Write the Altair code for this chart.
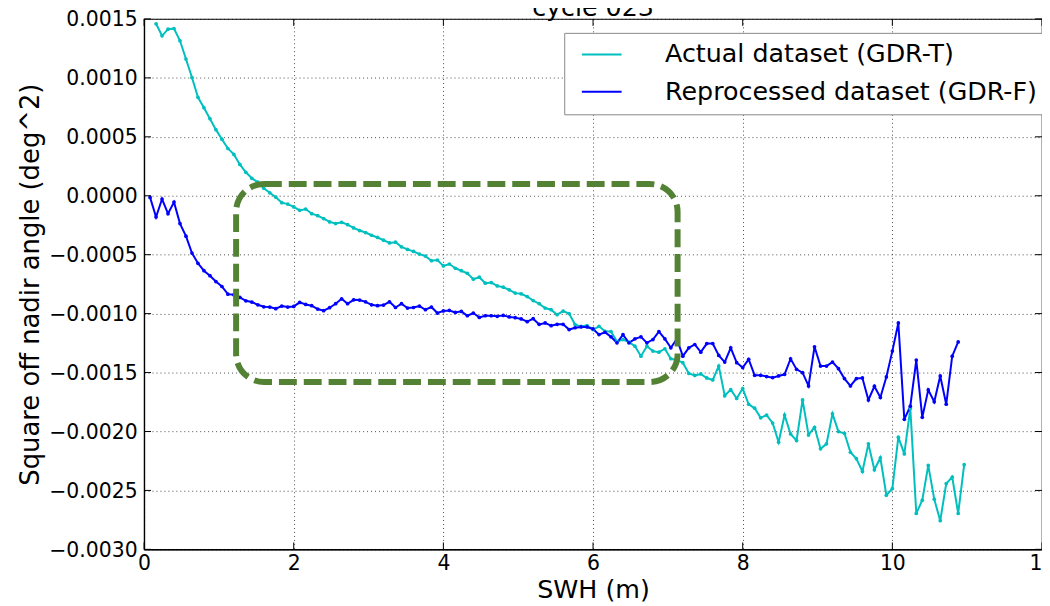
import altair as alt
import pandas as pd

# ---- data ----
chart_title = ["cycle 023"]
series_names = ["Actual dataset (GDR-T)", "Reprocessed dataset (GDR-F)"]
series_colors = ["#00BFBF", "#0000FF"]

n_pts = 136
swh_gdr_t = [round(0.16 + 0.08 * i, 2) for i in range(n_pts)]   # bin centres (m)
swh_gdr_f = [round(0.08 + 0.08 * i, 2) for i in range(n_pts)]

gdr_t = [
    0.001459, 0.001357, 0.001413, 0.001419, 0.001315, 0.00116, 0.001003, 0.000835,
    0.000747, 0.000654, 0.000561, 0.00048, 0.000401, 0.000351, 0.000266, 0.000199,
    0.000148, 0.000115, 0.000064, 0.000025, -0.000012, -0.000059, -0.000071, -0.000095,
    -0.000124, -0.000113, -0.000152, -0.000169, -0.000194, -0.000222, -0.000236, -0.000225,
    -0.000245, -0.000273, -0.000295, -0.000312, -0.000335, -0.000354, -0.000377, -0.0004,
    -0.000394, -0.000433, -0.000455, -0.000472, -0.000495, -0.000512, -0.000551, -0.000545,
    -0.000595, -0.000579, -0.000615, -0.000636, -0.000658, -0.000708, -0.000691, -0.000742,
    -0.000737, -0.000765, -0.000776, -0.000798, -0.000826, -0.000832, -0.000855, -0.000889,
    -0.000916, -0.000953, -0.000967, -0.001009, -0.000978, -0.001, -0.001093, -0.001108,
    -0.001102, -0.001135, -0.001108, -0.00115, -0.001152, -0.001237, -0.00122, -0.001242,
    -0.001276, -0.001361, -0.001276, -0.001318, -0.001327, -0.001298, -0.001383, -0.001394,
    -0.001416, -0.001507, -0.001524, -0.001512, -0.001546, -0.001563, -0.001445, -0.001697,
    -0.001644, -0.00172, -0.001636, -0.001769, -0.001802, -0.001884, -0.001861, -0.001928,
    -0.002091, -0.001861, -0.002021, -0.002077, -0.001732, -0.002029, -0.001964, -0.002147,
    -0.002105, -0.00185, -0.002001, -0.002015, -0.002176, -0.002231, -0.002339, -0.002105,
    -0.002325, -0.002223, -0.002541, -0.002484, -0.002048, -0.00219, -0.001804, -0.002695,
    -0.002583, -0.002288, -0.002574, -0.002757, -0.002442, -0.002386, -0.002695, -0.002282,
]

gdr_f = [
    -0.000014, -0.00018, -0.000028, -0.000152, -0.000054, -0.000236, -0.000343, -0.000486,
    -0.000573, -0.000636, -0.000678, -0.000728, -0.00077, -0.000835, -0.00084, -0.000863,
    -0.000891, -0.000902, -0.000925, -0.000942, -0.000944, -0.000958, -0.000936, -0.000944,
    -0.000939, -0.000905, -0.000922, -0.000933, -0.000961, -0.000975, -0.00095, -0.000916,
    -0.000874, -0.000916, -0.000883, -0.000885, -0.0009, -0.000925, -0.000933, -0.000927,
    -0.0009, -0.000948, -0.000916, -0.000953, -0.000948, -0.000936, -0.000967, -0.000944,
    -0.000995, -0.000977, -0.000973, -0.00099, -0.000981, -0.001018, -0.000995, -0.001032,
    -0.001018, -0.001018, -0.001023, -0.001015, -0.001028, -0.001034, -0.001045, -0.001068,
    -0.001043, -0.001091, -0.001079, -0.001102, -0.001091, -0.001091, -0.001135, -0.00112,
    -0.001113, -0.001113, -0.00113, -0.001178, -0.001158, -0.001197, -0.001248, -0.001178,
    -0.001248, -0.001214, -0.001197, -0.001248, -0.00122, -0.001152, -0.001214, -0.00129,
    -0.001214, -0.001361, -0.00129, -0.001262, -0.001327, -0.001254, -0.001254, -0.001355,
    -0.001411, -0.00129, -0.001416, -0.001458, -0.001388, -0.001523, -0.001523, -0.001534,
    -0.001543, -0.001529, -0.001515, -0.001383, -0.001473, -0.001501, -0.001613, -0.001281,
    -0.001445, -0.001445, -0.001411, -0.001467, -0.001551, -0.001613, -0.001551, -0.001546,
    -0.001732, -0.001616, -0.001711, -0.001537, -0.001318, -0.001079, -0.001897, -0.001785,
    -0.001394, -0.00188, -0.001647, -0.001748, -0.001529, -0.001769, -0.001361, -0.00124,
]

# highlighted region (data coordinates)
box_swh = [1.23, 7.13]
box_val = [0.0001, -0.00158]

x_ticks = [0, 2, 4, 6, 8, 10, 12]
y_ticks = [0.0015, 0.001, 0.0005, 0.0, -0.0005, -0.001, -0.0015, -0.002, -0.0025, -0.003]

# ---- tables ----
df = pd.concat([
    pd.DataFrame({"swh": swh_gdr_t, "val": gdr_t, "series": series_names[0]}),
    pd.DataFrame({"swh": swh_gdr_f, "val": gdr_f, "series": series_names[1]}),
])
box_df = pd.DataFrame({"x0": [box_swh[0]], "x1": [box_swh[1]],
                       "y0": [box_val[0]], "y1": [box_val[1]]})
xt_df = pd.DataFrame({"swh": x_ticks})
yt_df = pd.DataFrame({"val": y_ticks})
title_df = pd.DataFrame({"label": chart_title})

FONT = "DejaVu Sans"
W, H = 904, 534
TICK = 7

x_scale = alt.Scale(domain=[0, 12], nice=False)
y_scale = alt.Scale(domain=[-0.003, 0.0015], nice=False, zero=False)

x_enc = alt.X("swh:Q", title="SWH (m)", scale=x_scale,
              axis=alt.Axis(values=x_ticks, format="d", labelFlush=False))
y_enc = alt.Y("val:Q", title="Square off nadir angle (deg^2)", scale=y_scale,
              axis=alt.Axis(values=y_ticks, format=".4f", labelFlush=False))

lines = alt.Chart(df).mark_line(
    strokeWidth=2,
    point=alt.OverlayMarkDef(size=14, filled=True, opacity=1),
).encode(
    x=x_enc,
    y=y_enc,
    color=alt.Color("series:N",
                    scale=alt.Scale(domain=series_names, range=series_colors),
                    legend=alt.Legend(
                        title=None, orient="none", legendX=423, legendY=14,
                        symbolType="M-2,0H2", symbolSize=400, symbolStrokeWidth=2,
                        symbolOffset=16,
                        labelFontSize=25.5, labelFont=FONT, labelColor="black",
                        labelOffset=51, rowPadding=10.5, padding=9,
                        fillColor="white", strokeColor="#888888",
                        labelLimit=600,
                    )),
    order=alt.Order("swh:Q"),
)

# inward tick marks on all four sides (matplotlib classic style)
tick_style = dict(color="black", strokeWidth=1)
x_ticks_bottom = alt.Chart(xt_df).mark_rule(**tick_style).encode(
    x="swh:Q", y=alt.value(H), y2=alt.value(H - TICK))
x_ticks_top = alt.Chart(xt_df).mark_rule(**tick_style).encode(
    x="swh:Q", y=alt.value(0), y2=alt.value(TICK))
y_ticks_left = alt.Chart(yt_df).mark_rule(**tick_style).encode(
    y="val:Q", x=alt.value(0), x2=alt.value(TICK))
y_ticks_right = alt.Chart(yt_df).mark_rule(**tick_style).encode(
    y="val:Q", x=alt.value(W), x2=alt.value(W - TICK))

box = alt.Chart(box_df).mark_rect(
    fillOpacity=0, stroke="#548235", strokeWidth=6,
    strokeDash=[18, 7], cornerRadius=28,
).encode(
    x="x0:Q", x2="x1:Q", y="y0:Q", y2="y1:Q",
)

# title placed just above the frame, partly cut by the top edge as in the original
title = alt.Chart(title_df).mark_text(
    font=FONT, fontSize=25.5, color="black",
    align="center", baseline="alphabetic",
).encode(
    text="label:N", x=alt.value(W / 2), y=alt.value(-3),
)

chart = alt.layer(
    lines, x_ticks_bottom, x_ticks_top, y_ticks_left, y_ticks_right, box, title
).properties(
    width=W, height=H,
    autosize=alt.AutoSizeParams(type="none"),
    padding={"left": 137, "top": 9, "right": 0, "bottom": 55},
).configure_view(
    stroke="black", strokeWidth=1.2,
).configure_axis(
    labelFont=FONT, labelFontSize=20.5, labelColor="black",
    titleFont=FONT, titleFontSize=25.5, titleFontWeight="normal", titleColor="black",
    domainColor="black", domainWidth=1.2,
    ticks=False,
    grid=True, gridColor="black", gridOpacity=0.7, gridDash=[1, 3], gridWidth=1,
).configure_axisX(
    labelPadding=4, titlePadding=4,
).configure_axisY(
    labelPadding=7, titlePadding=5, titleFontSize=26, labelOffset=1,
)

chart.save("out.html", embed_options={"renderer": "svg", "actions": False})
